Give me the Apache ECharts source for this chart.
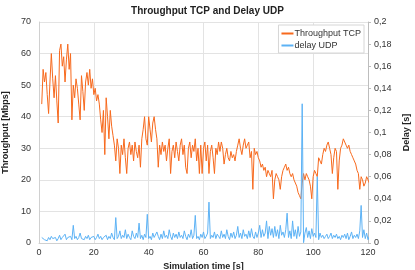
<!DOCTYPE html>
<html><head><meta charset="utf-8">
<script src="https://cdn.jsdelivr.net/npm/echarts@6/dist/echarts.min.js"></script>
<style>html,body{margin:0;padding:0;background:#fff}#c{width:415px;height:270px}</style>
</head><body><div id="c"></div>
<script>
const titleText = 'Throughput TCP and Delay UDP';
const seriesNames = ['Throughput TCP', 'delay UDP'];
const startTime = 1;      // s, first sample
const sampleStep = 0.5;   // s, sampling interval
const throughputTCP = [
 44,55,51,54,47,41,51,60,52,46, 53,45,38,61,63,56,59,51,58,63,
 55,60,39,50,46,52,49,44,39,53, 48,42,51,54,50,55,49,52,47,49,
 45,47,44,39,35,42,28,46,40,33, 42,37,34,31,26,33,30,22,31,28,
 33,27,22,30,32,28,31,26,32,29, 27,31,24,33,36,40,33,31,40,36,
 32,38,40,36,33,24,31,28,32,29, 31,26,30,33,22,29,31,27,32,29,
 26,31,33,28,31,24,22,30,32,27, 31,29,33,26,30,22,31,22,30,32,
 26,31,22,29,31,27,22,30,28,32, 29,32,30,25,28,30,27,26,29,27,
 28,26,29,31,33,30,28,31,33,30, 31,32,27,29,17,30,28,29,27,26,
 24,25,23,24,21,23,22,21,23,14, 20,22,21,20,17,21,23,24,25,23,
 24,22,21,22,20,19,18,16,15,14, 19,22,20,22,21,20,18,14,21,23,
 22,21,27,26,25,28,30,29,31,32, 30,28,22,27,30,29,17,26,30,31,
 33,32,31,30,31,29,28,27,26,25, 23,22,17,21,20,18,19,21,20,19
];
const delayUDP = [
 0.005,0.006,0.003,0.004,0.002,0.005,0.003,0.006,0.004,0.003,
 0.005,0.002,0.004,0.007,0.003,0.005,0.004,0.008,0.003,0.005,
 0.004,0.006,0.003,0.016,0.004,0.006,0.003,0.005,0.009,0.004,
 0.005,0.003,0.006,0.004,0.007,0.003,0.005,0.004,0.006,0.003,
 0.005,0.008,0.004,0.006,0.003,0.005,0.004,0.007,0.003,0.006,
 0.004,0.009,0.005,0.003,0.023,0.004,0.006,0.011,0.004,0.007,
 0.005,0.012,0.004,0.008,0.005,0.003,0.011,0.006,0.004,0.009,
 0.005,0.018,0.004,0.007,0.003,0.008,0.005,0.026,0.004,0.006,
 0.003,0.009,0.005,0.004,0.010,0.006,0.003,0.008,0.004,0.011,
 0.005,0.007,0.004,0.012,0.006,0.003,0.009,0.005,0.008,0.004,
 0.010,0.005,0.007,0.004,0.011,0.006,0.003,0.008,0.005,0.012,
 0.004,0.007,0.025,0.004,0.006,0.003,0.008,0.005,0.010,0.004,
 0.006,0.009,0.037,0.004,0.007,0.005,0.010,0.004,0.008,0.006,
 0.004,0.011,0.005,0.008,0.004,0.012,0.006,0.003,0.009,0.005,
 0.010,0.004,0.007,0.015,0.005,0.009,0.004,0.012,0.006,0.008,
 0.004,0.011,0.005,0.013,0.006,0.004,0.010,0.005,0.009,0.016,
 0.005,0.012,0.006,0.009,0.020,0.004,0.015,0.007,0.013,0.005,
 0.015,0.006,0.012,0.004,0.016,0.007,0.010,0.005,0.012,0.027,
 0.005,0.011,0.004,0.020,0.006,0.012,0.004,0.015,0.006,0.010,
 0.126,0.0003,0.009,0.014,0.005,0.011,0.004,0.013,0.006,0.009,
 0.005,0.060,0.003,0.009,0.005,0.007,0.004,0.006,0.008,0.004,
 0.006,0.009,0.004,0.007,0.005,0.008,0.004,0.006,0.003,0.007,
 0.005,0.008,0.004,0.009,0.003,0.006,0.010,0.004,0.007,0.005,
 0.008,0.004,0.011,0.034,0.005,0.012,0.004,0.009,0.003,0.006
];
const xAxisName = 'Simulation time [s]';
const leftAxisName = 'Throughput [Mbps]';
const rightAxisName = 'Delay [s]';

const toPairs = arr => arr.map((v, i) => [startTime + i * sampleStep, v]);
const FONT = 'Liberation Sans, Arial, sans-serif';
const chart = echarts.init(document.getElementById('c'), null, {renderer: 'canvas'});
const gridLine = {show: true, lineStyle: {color: '#e3e3e3', width: 1}};
chart.setOption({
  animation: false,
  backgroundColor: '#ffffff',
  textStyle: {fontFamily: FONT},
  title: {text: titleText, left: 'center', top: 1,
    textStyle: {fontSize: 10, fontWeight: 'bold', color: '#222', fontFamily: FONT}},
  legend: {
    orient: 'vertical', right: 51, top: 25,
    backgroundColor: '#fff', borderColor: '#d6d6d6', borderWidth: 1,
    padding: [4, 3, 3, 3], itemGap: 3, itemWidth: 12, itemHeight: 2,
    icon: 'rect',
    textStyle: {fontSize: 9, color: '#333', padding: [0, 0, 0, -4]},
    data: seriesNames
  },
  grid: {left: 39, right: 47, top: 22, bottom: 27, containLabel: false, outerBoundsMode: 'none'},
  xAxis: {
    type: 'value', min: 0, max: 120, interval: 20,
    name: xAxisName, nameLocation: 'middle', nameGap: 14,
    nameTextStyle: {fontSize: 9, fontWeight: 'bold', color: '#222'},
    axisLine: {show: true, lineStyle: {color: '#d0d0d0'}},
    axisTick: {show: false},
    axisLabel: {fontSize: 9, color: '#333', margin: 5},
    splitLine: gridLine
  },
  yAxis: [{
    type: 'value', min: 0, max: 70, interval: 10,
    name: leftAxisName, nameLocation: 'middle', nameGap: 21, nameRotate: 90,
    nameTextStyle: {fontSize: 9, fontWeight: 'bold', color: '#222'},
    axisLine: {show: true, lineStyle: {color: '#d0d0d0'}},
    axisTick: {show: false},
    axisLabel: {fontSize: 9, color: '#333', margin: 8},
    splitLine: gridLine
  }, {
    type: 'value', min: 0, max: 0.2, interval: 0.02, position: 'right',
    name: rightAxisName, nameLocation: 'middle', nameGap: 34, nameRotate: 90,
    nameTextStyle: {fontSize: 9, fontWeight: 'bold', color: '#222'},
    axisLine: {show: true, lineStyle: {color: '#bdbdbd'}},
    axisTick: {show: true, length: 3, lineStyle: {color: '#bdbdbd'}},
    axisLabel: {fontSize: 9, color: '#333', margin: 6,
      formatter: v => String(+v.toFixed(2)).replace('.', ',')},
    splitLine: {show: false}
  }],
  series: [{
    name: seriesNames[0], type: 'line', yAxisIndex: 0, showSymbol: false,
    data: toPairs(throughputTCP), color: '#F7691D',
    lineStyle: {width: 1, color: '#F7691D'}
  }, {
    name: seriesNames[1], type: 'line', yAxisIndex: 1, showSymbol: false,
    data: toPairs(delayUDP), color: '#5CB2F5',
    lineStyle: {width: 1, color: '#5CB2F5'}
  }]
});
</script></body></html>
